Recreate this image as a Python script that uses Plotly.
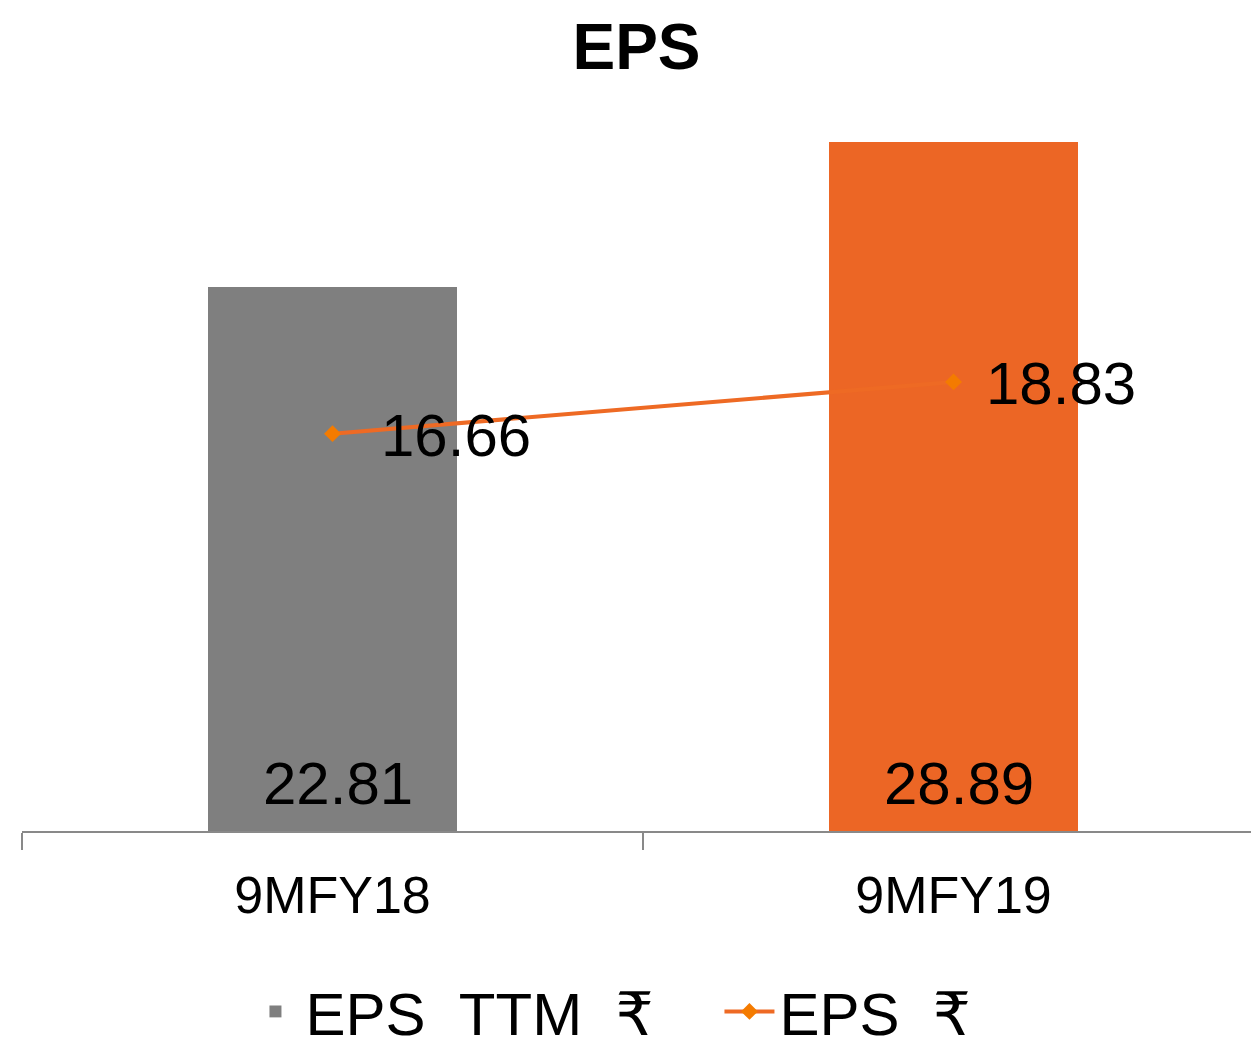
import plotly.graph_objects as go

categories = ["9MFY18", "9MFY19"]
eps_ttm = [22.81, 28.89]
eps = [16.66, 18.83]
bar_colors = ["#7F7F7F", "#EC6625"]

FONT = "Arial, Liberation Sans, DejaVu Sans, sans-serif"
NB = "\u00a0"
xpos = list(range(len(categories)))

fig = go.Figure()
fig.add_trace(go.Bar(
    x=xpos, y=eps_ttm, width=0.4,
    marker=dict(color=bar_colors, line=dict(width=0)),
    name=f"EPS{NB}{NB}TTM{NB}{NB}₹",
))
fig.add_trace(go.Scatter(
    x=xpos, y=eps, mode="lines+markers",
    name=f"EPS{NB}{NB}₹",
    line=dict(color="#EE6A24", width=4),
    marker=dict(symbol="diamond", size=13, color="#F47B00"),
))

# bar value labels (at the base of each bar)
for x, v in zip(xpos, eps_ttm):
    fig.add_annotation(x=x, y=0, xref="x", yref="y", text=f"{v:.2f}",
                       showarrow=False, xanchor="center", yanchor="bottom",
                       xshift=5, yshift=12, font=dict(size=60, color="black", family=FONT))

# line value labels
xshifts = [46, 30]
for x, v, s in zip(xpos, eps, xshifts):
    fig.add_annotation(x=x, y=v, xref="x", yref="y", text=f"{v:.2f}",
                       showarrow=False, xanchor="left", yanchor="middle",
                       xshift=s, yshift=-2, font=dict(size=60, color="black", family=FONT))

fig.update_layout(
    width=1251, height=1057,
    margin=dict(l=22, r=0, t=100, b=226, autoexpand=False),
    paper_bgcolor="white", plot_bgcolor="white",
    font=dict(family=FONT, color="black"),
    title=dict(text="<b>EPS</b>", x=0.5, xref="paper", xanchor="center",
               y=1 - 47 / 1057, yref="container", yanchor="middle",
               font=dict(size=64, color="black", family=FONT)),
    showlegend=True,
    legend=dict(orientation="h", x=0.5675, xanchor="center", y=-0.309,
                yanchor="bottom", font=dict(size=60, color="black", family=FONT),
                bgcolor="rgba(0,0,0,0)", itemwidth=50, entrywidth=409),
    bargap=0,
)
fig.update_xaxes(
    range=[-0.5, 1.479], tickvals=xpos, ticktext=categories,
    ticks="", showgrid=False, zeroline=False,
    showline=True, linecolor="#898989", linewidth=1.5,
    tickfont=dict(size=52, color="black", family=FONT),
    ticklabelstandoff=18,
    minor=dict(tickvals=[-0.5, 0.5, 1.5], ticks="outside", ticklen=17,
               tickcolor="#898989", tickwidth=1.5, showgrid=False),
)
fig.update_yaxes(range=[0, 30.65], visible=False, showgrid=False, zeroline=False)

fig.write_html("out.html", config={"displayModeBar": False},
               post_script="document.body.style.margin='0';document.body.style.overflow='hidden';")
